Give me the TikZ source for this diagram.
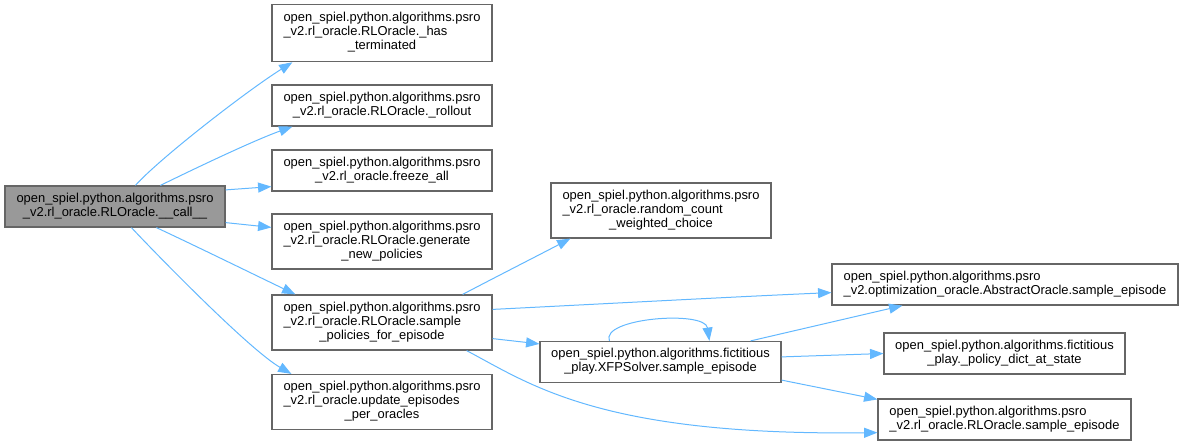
\documentclass[tikz,border=0pt]{standalone}
\usepackage{fontspec}
\setmainfont{Liberation Sans}
\usetikzlibrary{arrows.meta,calc}
\definecolor{EdgeBlue}{HTML}{63B8FF}
\definecolor{BoxGray}{HTML}{666666}
\definecolor{CallFill}{HTML}{999999}
\newcommand{\twoline}[2]{\begin{tabular}{@{}l@{}}#1\\\multicolumn{1}{@{}c@{}}{#2}\end{tabular}}
\newcommand{\threeline}[3]{\begin{tabular}{@{}l@{}}#1\\#2\\\multicolumn{1}{@{}c@{}}{#3}\end{tabular}}
\tikzset{
  fnbox/.style={draw=BoxGray,line width=0.9pt,fill=white,inner sep=0pt,
                minimum width=165pt,minimum height=30.75pt,
                font=\fontsize{9.7}{10.5}\selectfont},
  tallbox/.style={minimum height=41.25pt},
  callbox/.style={fnbox,fill=CallFill},
  calledge/.style={draw=EdgeBlue,line width=0.75pt,-{Triangle[length=10pt,width=7.5pt]}}
}

\begin{document}
\begin{tikzpicture}[x=0.75pt,y=-0.75pt]
  \useasboundingbox (0,0) rectangle (1184,446);

  \node[callbox] (call) at (115,206.5)
    {\twoline{open\_spiel.python.algorithms.psro}{\_v2.rl\_oracle.RLOracle.\_\_call\_\_}};

  \node[fnbox,tallbox,minimum height=43pt] (has) at (382,33)
    {\threeline{open\_spiel.python.algorithms.psro}{\_v2.rl\_oracle.RLOracle.\_has}{\_terminated}};
  \node[fnbox] (rollout) at (382,105.5)
    {\twoline{open\_spiel.python.algorithms.psro}{\_v2.rl\_oracle.RLOracle.\_rollout}};
  \node[fnbox] (freeze) at (382,170.5)
    {\twoline{open\_spiel.python.algorithms.psro}{\_v2.rl\_oracle.freeze\_all}};
  \node[fnbox,tallbox] (generate) at (382,241.5)
    {\threeline{open\_spiel.python.algorithms.psro}{\_v2.rl\_oracle.RLOracle.generate}{\_new\_policies}};
  \node[fnbox,tallbox] (samplepol) at (382,322.5)
    {\threeline{open\_spiel.python.algorithms.psro}{\_v2.rl\_oracle.RLOracle.sample}{\_policies\_for\_episode}};
  \node[fnbox,tallbox] (update) at (382,402)
    {\threeline{open\_spiel.python.algorithms.psro}{\_v2.rl\_oracle.update\_episodes}{\_per\_oracles}};

  \node[fnbox,tallbox] (random) at (661,210.5)
    {\threeline{open\_spiel.python.algorithms.psro}{\_v2.rl\_oracle.random\_count}{\_weighted\_choice}};
  \node[fnbox,minimum width=180.75pt] (xfp) at (660.5,362)
    {\twoline{open\_spiel.python.algorithms.fictitious}{\_play.XFPSolver.sample\_episode}};

  \node[fnbox,minimum width=259.5pt] (abstract) at (1005,284.5)
    {\twoline{open\_spiel.python.algorithms.psro}{\_v2.optimization\_oracle.AbstractOracle.sample\_episode}};
  \node[fnbox,minimum width=180.75pt] (policy) at (1004.5,353.5)
    {\twoline{open\_spiel.python.algorithms.fictitious}{\_play.\_policy\_dict\_at\_state}};
  \node[fnbox,minimum width=189.75pt] (rlsample) at (1004.5,419.5)
    {\twoline{open\_spiel.python.algorithms.psro}{\_v2.rl\_oracle.RLOracle.sample\_episode}};

  % calls made by __call__
  \draw[calledge] ($(call.north west)+(131,0)$) .. controls (160,158) and (248,90) .. ($(has.south west)+(21,0)$);
  \draw[calledge] ($(call.north west)+(156,0)$) .. controls (200,166) and (255,140) .. ($(rollout.south west)+(21,0)$);
  \draw[calledge] ($(call.north east)+(0,4.5)$) -- ($(freeze.south west)+(0,-5)$);
  \draw[calledge] ($(call.south east)+(0,-5)$) -- ($(generate.north west)+(0,14)$);
  \draw[calledge] ($(call.south west)+(152,0)$) .. controls (200,248) and (255,275) .. ($(samplepol.north west)+(24,0)$);
  \draw[calledge] ($(call.south west)+(127,0)$) .. controls (160,258) and (250,350) .. ($(update.north west)+(20,0)$);

  % calls made by sample_policies_for_episode
  \draw[calledge] ($(samplepol.north east)+(-30,0)$) .. controls (490,280) and (535,257) .. ($(random.south west)+(20,0)$);
  \draw[calledge] ($(samplepol.north east)+(0,15)$) .. controls (600,304) and (750,296) .. ($(abstract.south west)+(0,-13)$);
  \draw[calledge] ($(samplepol.south east)+(0,-12)$) -- ($(xfp.north west)+(0,3)$);
  \draw[calledge] ($(samplepol.south east)+(-26,0)$) .. controls (530,384) and (600,436) .. ($(rlsample.south west)+(0,-8)$);

  % calls made by XFPSolver.sample_episode
  \draw[calledge] ($(xfp.north west)+(70,0)$) .. controls (600,318) and (705,310) .. ($(xfp.north west)+(170,0)$);
  \draw[calledge] ($(xfp.north east)+(-31,0)$) -- ($(abstract.south west)+(71,0)$);
  \draw[calledge] ($(xfp.north east)+(0,16)$) -- (policy.west);
  \draw[calledge] ($(xfp.south east)+(0,-3)$) -- ($(rlsample.north west)+(0,1)$);
\end{tikzpicture}
\end{document}
